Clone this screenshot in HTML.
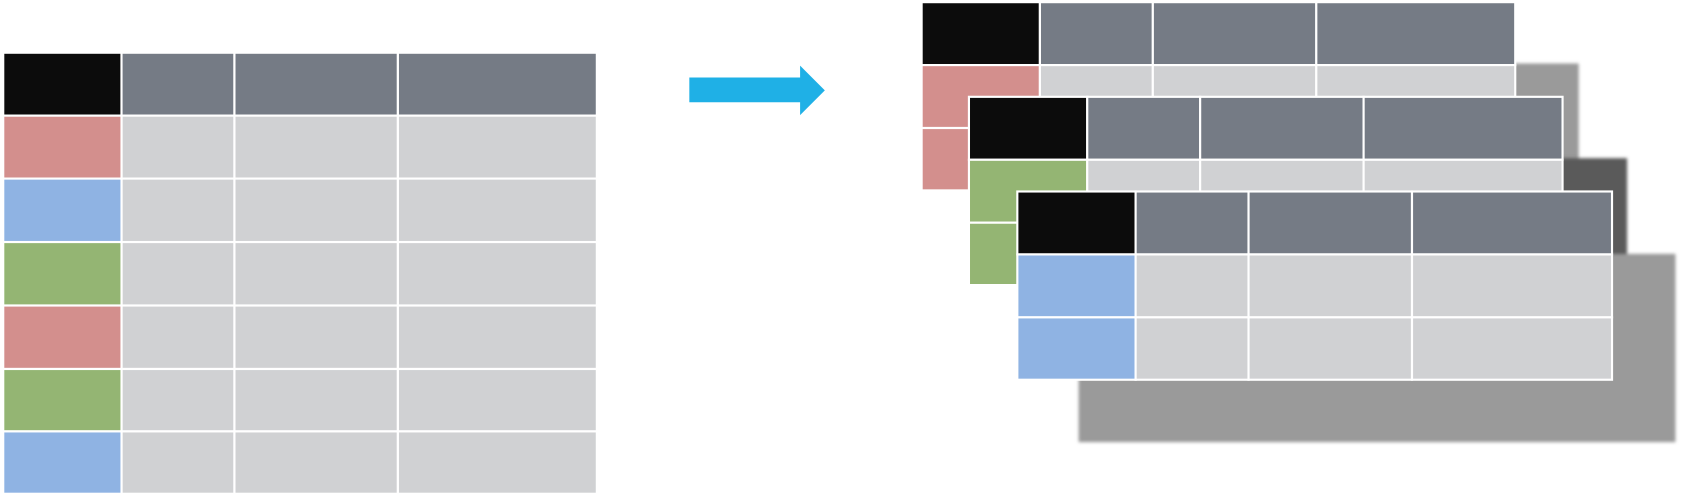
<!DOCTYPE html>
<html><head><style>html,body{margin:0;padding:0;background:#fff}svg{display:block}</style></head>
<body>
<svg width="1683" height="497" viewBox="0 0 1565 462" preserveAspectRatio="none" xmlns="http://www.w3.org/2000/svg">
<defs><filter id="b" x="-5%" y="-5%" width="110%" height="110%"><feGaussianBlur stdDeviation="1.5"/></filter></defs>
<g stroke="#fff" stroke-width="2">
<!-- left table -->
<rect x="3" y="49" width="110" height="58.5" fill="#0c0c0c"/>
<rect x="113" y="49" width="105" height="58.5" fill="#757b85"/>
<rect x="218" y="49" width="152" height="58.5" fill="#757b85"/>
<rect x="370" y="49" width="185" height="58.5" fill="#757b85"/>
</g>
<g stroke="#fff" stroke-width="2" fill="#d0d1d3">
<rect x="113" y="107.5" width="105" height="58.5"/><rect x="218" y="107.5" width="152" height="58.5"/><rect x="370" y="107.5" width="185" height="58.5"/>
<rect x="113" y="166" width="105" height="59"/><rect x="218" y="166" width="152" height="59"/><rect x="370" y="166" width="185" height="59"/>
<rect x="113" y="225" width="105" height="59"/><rect x="218" y="225" width="152" height="59"/><rect x="370" y="225" width="185" height="59"/>
<rect x="113" y="284" width="105" height="59"/><rect x="218" y="284" width="152" height="59"/><rect x="370" y="284" width="185" height="59"/>
<rect x="113" y="343" width="105" height="58"/><rect x="218" y="343" width="152" height="58"/><rect x="370" y="343" width="185" height="58"/>
<rect x="113" y="401" width="105" height="58"/><rect x="218" y="401" width="152" height="58"/><rect x="370" y="401" width="185" height="58"/>
<rect x="3" y="107.5" width="110" height="58.5" fill="#d38f8d"/>
<rect x="3" y="166" width="110" height="59" fill="#8fb3e3"/>
<rect x="3" y="225" width="110" height="59" fill="#94b573"/>
<rect x="3" y="284" width="110" height="59" fill="#d38f8d"/>
<rect x="3" y="343" width="110" height="58" fill="#94b573"/>
<rect x="3" y="401" width="110" height="58" fill="#8fb3e3"/>
</g>
<!-- arrow -->
<polygon points="641,72 744,72 744,61 767,84 744,107 744,95 641,95" fill="#1fb0e6"/>
<!-- table 1 -->
<rect x="915" y="59" width="553" height="176" fill="#9a9a9a" filter="url(#b)"/>
<g stroke="#fff" stroke-width="2">
<rect x="857" y="2" width="110" height="58.5" fill="#0c0c0c"/>
<rect x="967" y="2" width="105" height="58.5" fill="#757b85"/>
<rect x="1072" y="2" width="152" height="58.5" fill="#757b85"/>
<rect x="1224" y="2" width="185" height="58.5" fill="#757b85"/>
<rect x="857" y="60.5" width="110" height="58.5" fill="#d38f8d"/>
<rect x="967" y="60.5" width="105" height="58.5" fill="#d0d1d3"/><rect x="1072" y="60.5" width="152" height="58.5" fill="#d0d1d3"/><rect x="1224" y="60.5" width="185" height="58.5" fill="#d0d1d3"/>
<rect x="857" y="119" width="110" height="58" fill="#d38f8d"/>
<rect x="967" y="119" width="105" height="58" fill="#d0d1d3"/><rect x="1072" y="119" width="152" height="58" fill="#d0d1d3"/><rect x="1224" y="119" width="185" height="58" fill="#d0d1d3"/>
</g>
<!-- table 2 -->
<rect x="959" y="147" width="554" height="176" fill="#5a5a5a" filter="url(#b)"/>
<g stroke="#fff" stroke-width="2" transform="translate(44,88)">
<rect x="857" y="2" width="110" height="58.5" fill="#0c0c0c"/>
<rect x="967" y="2" width="105" height="58.5" fill="#757b85"/>
<rect x="1072" y="2" width="152" height="58.5" fill="#757b85"/>
<rect x="1224" y="2" width="185" height="58.5" fill="#757b85"/>
<rect x="857" y="60.5" width="110" height="58.5" fill="#94b573"/>
<rect x="967" y="60.5" width="105" height="58.5" fill="#d0d1d3"/><rect x="1072" y="60.5" width="152" height="58.5" fill="#d0d1d3"/><rect x="1224" y="60.5" width="185" height="58.5" fill="#d0d1d3"/>
<rect x="857" y="119" width="110" height="58" fill="#94b573"/>
<rect x="967" y="119" width="105" height="58" fill="#d0d1d3"/><rect x="1072" y="119" width="152" height="58" fill="#d0d1d3"/><rect x="1224" y="119" width="185" height="58" fill="#d0d1d3"/>
</g>
<!-- table 3 -->
<rect x="1003" y="236" width="555" height="175" fill="#9a9a9a" filter="url(#b)"/>
<g stroke="#fff" stroke-width="2" transform="translate(89,176)">
<rect x="857" y="2" width="110" height="58.5" fill="#0c0c0c"/>
<rect x="967" y="2" width="105" height="58.5" fill="#757b85"/>
<rect x="1072" y="2" width="152" height="58.5" fill="#757b85"/>
<rect x="1224" y="2" width="186" height="58.5" fill="#757b85"/>
<rect x="857" y="60.5" width="110" height="58.5" fill="#8fb3e3"/>
<rect x="967" y="60.5" width="105" height="58.5" fill="#d0d1d3"/><rect x="1072" y="60.5" width="152" height="58.5" fill="#d0d1d3"/><rect x="1224" y="60.5" width="186" height="58.5" fill="#d0d1d3"/>
<rect x="857" y="119" width="110" height="58" fill="#8fb3e3"/>
<rect x="967" y="119" width="105" height="58" fill="#d0d1d3"/><rect x="1072" y="119" width="152" height="58" fill="#d0d1d3"/><rect x="1224" y="119" width="186" height="58" fill="#d0d1d3"/>
</g>
</svg>
</body></html>
